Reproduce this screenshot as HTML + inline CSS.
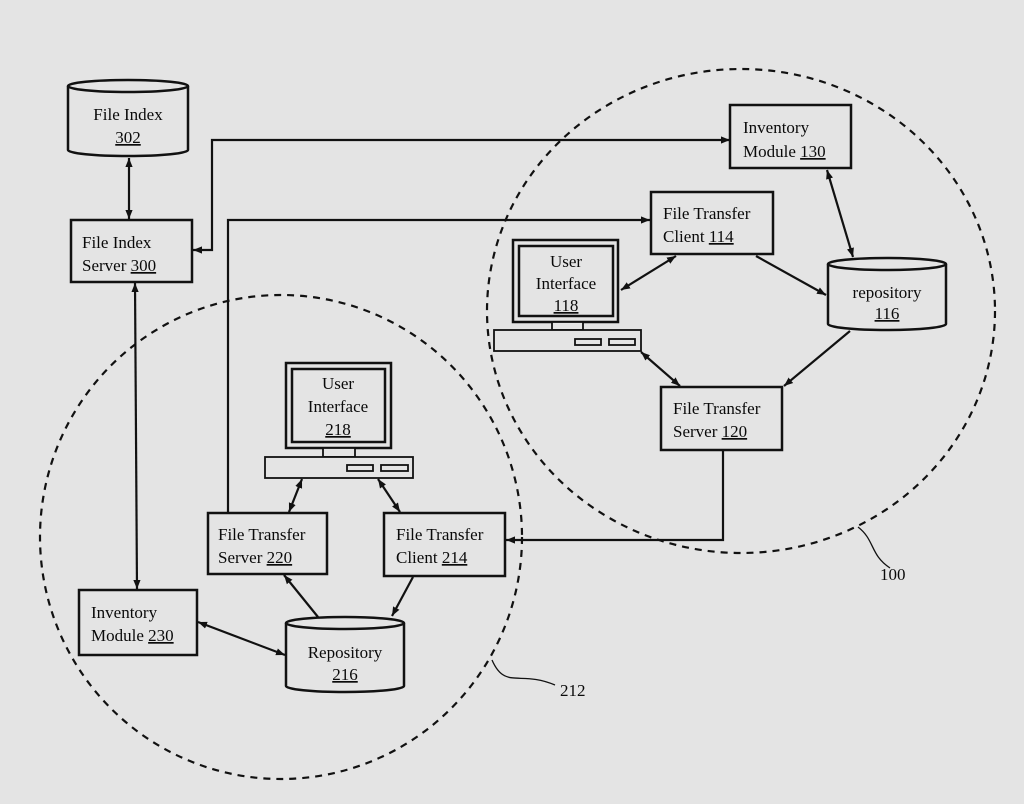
<!DOCTYPE html>
<html><head><meta charset="utf-8"><style>
html,body{margin:0;padding:0;background:#e4e4e4}
svg{display:block}
text{font-family:"Liberation Serif",serif;font-size:17px;fill:#0a0a0a}
</style></head><body>
<svg width="1024" height="804" viewBox="0 0 1024 804" xmlns="http://www.w3.org/2000/svg">
<defs>
<marker id="a" viewBox="0 0 10 10" refX="10" refY="5" markerWidth="9" markerHeight="9" orient="auto-start-reverse" markerUnits="userSpaceOnUse"><path d="M0,1 L10,5 L0,9 z" fill="#111"/></marker>
</defs>
<rect width="1024" height="804" fill="#e4e4e4"/>
<g fill="none" stroke="#111" stroke-width="2.2" stroke-dasharray="7,6">
<ellipse cx="741" cy="311" rx="254" ry="242"/>
<ellipse cx="281" cy="537" rx="241" ry="242"/>
</g>
<g fill="none" stroke="#111" stroke-width="1.3">
<path d="M858,527 C875,540 870,555 890,568"/>
<path d="M492,660 C505,690 520,670 555,685"/>
</g>
<text x="880" y="580">100</text>
<text x="560" y="696">212</text>

<g stroke="#111" stroke-width="2.5" fill="#e4e4e4">
<path d="M68,86 V150 A60,6 0 0 0 188,150 V86"/>
<ellipse cx="128" cy="86" rx="60" ry="6"/>
<rect x="71" y="220" width="121" height="62"/>
<rect x="730" y="105" width="121" height="63"/>
<rect x="651" y="192" width="122" height="62"/>
<path d="M828,264 V324 A59,6 0 0 0 946,324 V264"/>
<ellipse cx="887" cy="264" rx="59" ry="6"/>
<rect x="661" y="387" width="121" height="63"/>
<rect x="208" y="513" width="119" height="61"/>
<rect x="384" y="513" width="121" height="63"/>
<path d="M286,623 V686 A59,6 0 0 0 404,686 V623"/>
<ellipse cx="345" cy="623" rx="59" ry="6"/>
<rect x="79" y="590" width="118" height="65"/>
<rect x="513" y="240" width="105" height="82"/>
<rect x="519" y="246" width="94" height="70"/>
<rect x="552" y="322" width="31" height="8" stroke-width="1.8"/>
<rect x="494" y="330" width="147" height="21" stroke-width="1.8"/>
<rect x="575" y="339" width="26" height="6" stroke-width="1.8"/>
<rect x="609" y="339" width="26" height="6" stroke-width="1.8"/>
<rect x="286" y="363" width="105" height="85"/>
<rect x="292" y="369" width="93" height="73"/>
<rect x="323" y="448" width="32" height="9" stroke-width="1.8"/>
<rect x="265" y="457" width="148" height="21" stroke-width="1.8"/>
<rect x="347" y="465" width="26" height="6" stroke-width="1.8"/>
<rect x="381" y="465" width="27" height="6" stroke-width="1.8"/>
</g>

<g stroke="#111" stroke-width="2.2" fill="none">
<line x1="129" y1="158" x2="129" y2="219" marker-start="url(#a)" marker-end="url(#a)"/>
<path d="M730,140 H212 V250 H193" marker-start="url(#a)" marker-end="url(#a)"/>
<path d="M228,513 V220 H650" marker-end="url(#a)"/>
<line x1="827" y1="170" x2="853" y2="257" marker-start="url(#a)" marker-end="url(#a)"/>
<line x1="676" y1="256" x2="621" y2="290" marker-start="url(#a)" marker-end="url(#a)"/>
<line x1="756" y1="256" x2="826" y2="295" marker-end="url(#a)"/>
<line x1="641" y1="352" x2="680" y2="386" marker-start="url(#a)" marker-end="url(#a)"/>
<line x1="850" y1="331" x2="784" y2="386" marker-end="url(#a)"/>
<path d="M723,450 V540 H506" marker-end="url(#a)"/>
<line x1="302" y1="479" x2="289" y2="512" marker-start="url(#a)" marker-end="url(#a)"/>
<line x1="378" y1="479" x2="400" y2="512" marker-start="url(#a)" marker-end="url(#a)"/>
<line x1="318" y1="617" x2="284" y2="575" marker-end="url(#a)"/>
<line x1="413" y1="577" x2="392" y2="616" marker-end="url(#a)"/>
<line x1="135" y1="283" x2="137" y2="589" marker-start="url(#a)" marker-end="url(#a)"/>
<line x1="198" y1="622" x2="285" y2="655" marker-start="url(#a)" marker-end="url(#a)"/>
</g>

<g text-anchor="middle">
<text x="128" y="120">File Index</text>
<text x="128" y="143" text-decoration="underline">302</text>
<text x="887" y="298">repository</text>
<text x="887" y="319" text-decoration="underline">116</text>
<text x="566" y="267">User</text>
<text x="566" y="289">Interface</text>
<text x="566" y="311" text-decoration="underline">118</text>
<text x="338" y="389">User</text>
<text x="338" y="412">Interface</text>
<text x="338" y="435" text-decoration="underline">218</text>
<text x="345" y="658">Repository</text>
<text x="345" y="680" text-decoration="underline">216</text>
</g>
<text x="82" y="248">File Index</text>
<text x="82" y="271">Server <tspan text-decoration="underline">300</tspan></text>
<text x="743" y="133">Inventory</text>
<text x="743" y="157">Module <tspan text-decoration="underline">130</tspan></text>
<text x="663" y="219">File Transfer</text>
<text x="663" y="242">Client <tspan text-decoration="underline">114</tspan></text>
<text x="673" y="414">File Transfer</text>
<text x="673" y="437">Server <tspan text-decoration="underline">120</tspan></text>
<text x="218" y="540">File Transfer</text>
<text x="218" y="563">Server <tspan text-decoration="underline">220</tspan></text>
<text x="396" y="540">File Transfer</text>
<text x="396" y="563">Client <tspan text-decoration="underline">214</tspan></text>
<text x="91" y="618">Inventory</text>
<text x="91" y="641">Module <tspan text-decoration="underline">230</tspan></text>
</svg>
</body></html>
